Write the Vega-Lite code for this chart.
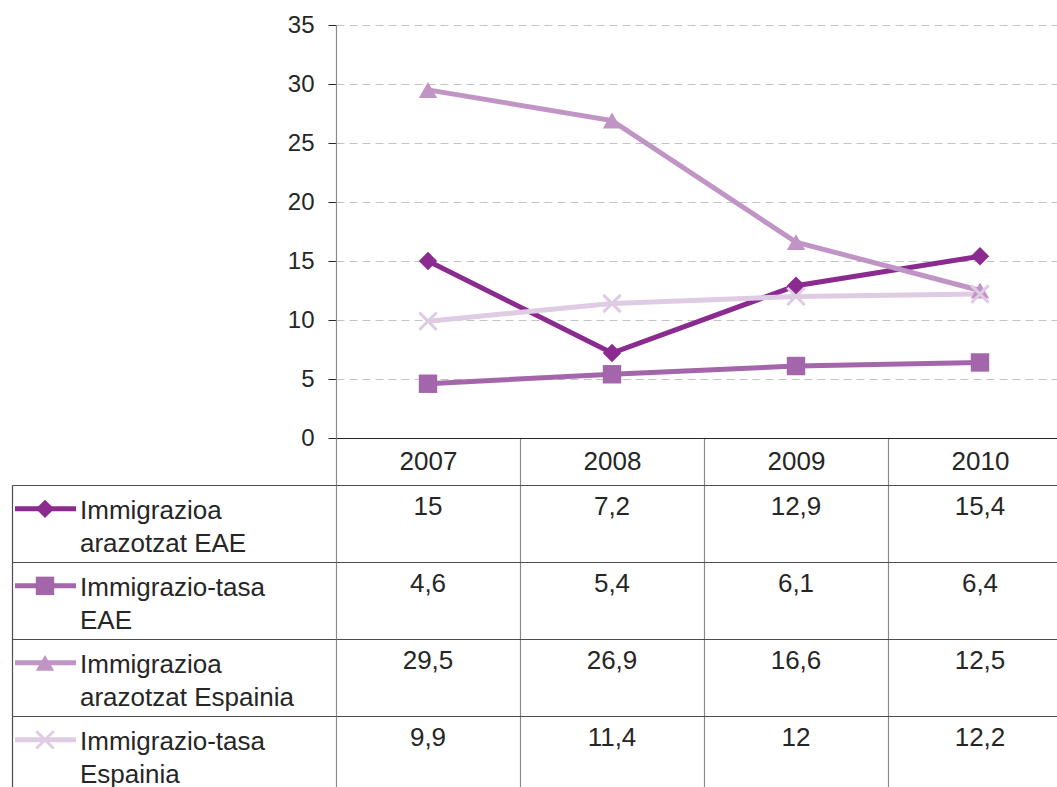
{
  "$schema": "https://vega.github.io/schema/vega-lite/v6.json",
  "datasets": {
    "d": [
      {"series": "Immigrazioa\narazotzat EAE", "year": 2007, "value": 15},
      {"series": "Immigrazioa\narazotzat EAE", "year": 2008, "value": 7.2},
      {"series": "Immigrazioa\narazotzat EAE", "year": 2009, "value": 12.9},
      {"series": "Immigrazioa\narazotzat EAE", "year": 2010, "value": 15.4},
      {"series": "Immigrazio-tasa\nEAE", "year": 2007, "value": 4.6},
      {"series": "Immigrazio-tasa\nEAE", "year": 2008, "value": 5.4},
      {"series": "Immigrazio-tasa\nEAE", "year": 2009, "value": 6.1},
      {"series": "Immigrazio-tasa\nEAE", "year": 2010, "value": 6.4},
      {"series": "Immigrazioa\narazotzat Espainia", "year": 2007, "value": 29.5},
      {"series": "Immigrazioa\narazotzat Espainia", "year": 2008, "value": 26.9},
      {"series": "Immigrazioa\narazotzat Espainia", "year": 2009, "value": 16.6},
      {"series": "Immigrazioa\narazotzat Espainia", "year": 2010, "value": 12.5},
      {"series": "Immigrazio-tasa\nEspainia", "year": 2007, "value": 9.9},
      {"series": "Immigrazio-tasa\nEspainia", "year": 2008, "value": 11.4},
      {"series": "Immigrazio-tasa\nEspainia", "year": 2009, "value": 12},
      {"series": "Immigrazio-tasa\nEspainia", "year": 2010, "value": 12.2}
    ]
  },
  "padding": {"left": 12, "top": 13, "right": 0, "bottom": 0},
  "autosize": {"type": "pad"},
  "columns": 2,
  "spacing": {"row": 47, "column": 0},
  "bounds": "flush",
  "resolve": {"scale": {"x": "independent", "y": "independent"}},
  "concat": [
    {
      "width": 324,
      "height": 413,
      "data": {"values": [{}]},
      "mark": {"type": "text", "text": ""}
    },
    {
      "width": 736,
      "height": 413,
      "data": {"name": "d"},
      "encoding": {
        "x": {
          "field": "year", "type": "ordinal", "bandPosition": 0.5,
          "scale": {"type": "band", "paddingInner": 0, "paddingOuter": 0},
          "axis": {"title": null, "orient": "bottom", "labelAngle": 0, "domainColor": "#262626", "domainWidth": 1.2, "tickBand": "extent", "tickSize": 47, "tickColor": "#8a8a8a", "tickWidth": 1.2, "labelPadding": -24, "labelBaseline": "middle", "labelFontSize": 26, "labelColor": "#262626", "grid": false}
        },
        "y": {
          "field": "value", "type": "quantitative",
          "scale": {"domain": [0, 35], "nice": false},
          "axis": {"title": null, "values": [0, 5, 10, 15, 20, 25, 30, 35], "domainColor": "#8a8a8a", "domainWidth": 1.2, "tickColor": "#262626", "tickSize": 8, "labelPadding": 14, "labelFontSize": 24, "labelColor": "#262626", "grid": true, "gridDash": [8, 5], "gridColor": "#c4c4c4"}
        },
        "color": {
          "field": "series", "type": "nominal", "legend": null,
          "scale": {"domain": ["Immigrazioa\narazotzat EAE", "Immigrazio-tasa\nEAE", "Immigrazioa\narazotzat Espainia", "Immigrazio-tasa\nEspainia"], "range": ["#8b2a8f", "#a366aa", "#c095c6", "#dfcbe4"]}
        }
      },
      "layer": [
        {"mark": {"type": "line", "strokeWidth": 5}},
        {
          "transform": [{"filter": {"not": {"field": "series", "equal": "Immigrazio-tasa\nEspainia"}}}],
          "mark": {"type": "point", "filled": true, "size": 340, "opacity": 1},
          "encoding": {
            "shape": {"field": "series", "type": "nominal", "legend": null,
              "scale": {"domain": ["Immigrazioa\narazotzat EAE", "Immigrazio-tasa\nEAE", "Immigrazioa\narazotzat Espainia", "Immigrazio-tasa\nEspainia"], "range": ["diamond", "square", "triangle-up", "M-1,-1L1,1M1,-1L-1,1"]}}
          }
        },
        {
          "transform": [{"filter": {"field": "series", "equal": "Immigrazio-tasa\nEspainia"}}],
          "mark": {"type": "point", "filled": false, "size": 300, "strokeWidth": 3, "opacity": 1},
          "encoding": {
            "shape": {"field": "series", "type": "nominal", "legend": null,
              "scale": {"domain": ["Immigrazioa\narazotzat EAE", "Immigrazio-tasa\nEAE", "Immigrazioa\narazotzat Espainia", "Immigrazio-tasa\nEspainia"], "range": ["diamond", "square", "triangle-up", "M-1,-1L1,1M1,-1L-1,1"]}}
          }
        }
      ]
    },
    {
      "width": 324,
      "height": 308,
      "data": {"name": "d"},
      "transform": [{"filter": {"field": "year", "equal": 2007}}],
      "layer": [
        {
          "mark": {"type": "rule", "strokeWidth": 5},
          "encoding": {
            "x": {"value": 3},
            "x2": {"value": 64},
            "y": {"field": "series", "type": "nominal", "bandPosition": 0.31,
              "scale": {"type": "band", "paddingInner": 0, "paddingOuter": 0, "domain": ["Immigrazioa\narazotzat EAE", "Immigrazio-tasa\nEAE", "Immigrazioa\narazotzat Espainia", "Immigrazio-tasa\nEspainia"]},
              "axis": {"title": null, "labels": false, "ticks": false, "domain": true, "domainColor": "#4d4d4d", "domainWidth": 1.2, "grid": true, "tickBand": "extent", "gridColor": "#4d4d4d", "gridWidth": 1.2}},
            "color": {"field": "series", "type": "nominal", "legend": null,
              "scale": {"domain": ["Immigrazioa\narazotzat EAE", "Immigrazio-tasa\nEAE", "Immigrazioa\narazotzat Espainia", "Immigrazio-tasa\nEspainia"], "range": ["#8b2a8f", "#a366aa", "#c095c6", "#dfcbe4"]}}
          }
        },
        {
          "transform": [{"filter": {"not": {"field": "series", "equal": "Immigrazio-tasa\nEspainia"}}}],
          "mark": {"type": "point", "filled": true, "size": 340, "opacity": 1},
          "encoding": {
            "x": {"value": 33},
            "y": {"field": "series", "type": "nominal", "bandPosition": 0.31,
              "scale": {"type": "band", "paddingInner": 0, "paddingOuter": 0, "domain": ["Immigrazioa\narazotzat EAE", "Immigrazio-tasa\nEAE", "Immigrazioa\narazotzat Espainia", "Immigrazio-tasa\nEspainia"]},
              "axis": {"title": null, "labels": false, "ticks": false, "domain": true, "domainColor": "#4d4d4d", "domainWidth": 1.2, "grid": true, "tickBand": "extent", "gridColor": "#4d4d4d", "gridWidth": 1.2}},
            "color": {"field": "series", "type": "nominal", "legend": null,
              "scale": {"domain": ["Immigrazioa\narazotzat EAE", "Immigrazio-tasa\nEAE", "Immigrazioa\narazotzat Espainia", "Immigrazio-tasa\nEspainia"], "range": ["#8b2a8f", "#a366aa", "#c095c6", "#dfcbe4"]}},
            "shape": {"field": "series", "type": "nominal", "legend": null,
              "scale": {"domain": ["Immigrazioa\narazotzat EAE", "Immigrazio-tasa\nEAE", "Immigrazioa\narazotzat Espainia", "Immigrazio-tasa\nEspainia"], "range": ["diamond", "square", "triangle-up", "M-1,-1L1,1M1,-1L-1,1"]}}
          }
        },
        {
          "transform": [{"filter": {"field": "series", "equal": "Immigrazio-tasa\nEspainia"}}],
          "mark": {"type": "point", "filled": false, "size": 300, "strokeWidth": 3, "opacity": 1},
          "encoding": {
            "x": {"value": 33},
            "y": {"field": "series", "type": "nominal", "bandPosition": 0.31,
              "scale": {"type": "band", "paddingInner": 0, "paddingOuter": 0, "domain": ["Immigrazioa\narazotzat EAE", "Immigrazio-tasa\nEAE", "Immigrazioa\narazotzat Espainia", "Immigrazio-tasa\nEspainia"]},
              "axis": {"title": null, "labels": false, "ticks": false, "domain": true, "domainColor": "#4d4d4d", "domainWidth": 1.2, "grid": true, "tickBand": "extent", "gridColor": "#4d4d4d", "gridWidth": 1.2}},
            "color": {"field": "series", "type": "nominal", "legend": null,
              "scale": {"domain": ["Immigrazioa\narazotzat EAE", "Immigrazio-tasa\nEAE", "Immigrazioa\narazotzat Espainia", "Immigrazio-tasa\nEspainia"], "range": ["#8b2a8f", "#a366aa", "#c095c6", "#dfcbe4"]}},
            "shape": {"field": "series", "type": "nominal", "legend": null,
              "scale": {"domain": ["Immigrazioa\narazotzat EAE", "Immigrazio-tasa\nEAE", "Immigrazioa\narazotzat Espainia", "Immigrazio-tasa\nEspainia"], "range": ["diamond", "square", "triangle-up", "M-1,-1L1,1M1,-1L-1,1"]}}
          }
        },
        {
          "mark": {"type": "text", "align": "left", "baseline": "alphabetic", "lineBreak": "\n", "lineHeight": 33, "fontSize": 26, "color": "#262626"},
          "encoding": {
            "x": {"value": 68},
            "y": {"field": "series", "type": "nominal", "bandPosition": 0.44,
              "scale": {"type": "band", "paddingInner": 0, "paddingOuter": 0, "domain": ["Immigrazioa\narazotzat EAE", "Immigrazio-tasa\nEAE", "Immigrazioa\narazotzat Espainia", "Immigrazio-tasa\nEspainia"]},
              "axis": {"title": null, "labels": false, "ticks": false, "domain": true, "domainColor": "#4d4d4d", "domainWidth": 1.2, "grid": true, "tickBand": "extent", "gridColor": "#4d4d4d", "gridWidth": 1.2}},
            "text": {"field": "series", "type": "nominal"}
          }
        }
      ]
    },
    {
      "width": 736,
      "height": 308,
      "data": {"name": "d"},
      "mark": {"type": "text", "fontSize": 26, "color": "#262626", "baseline": "alphabetic", "align": "center"},
      "encoding": {
        "x": {"field": "year", "type": "ordinal", "bandPosition": 0.5,
          "scale": {"type": "band", "paddingInner": 0, "paddingOuter": 0},
          "axis": {"title": null, "orient": "top", "labels": false, "ticks": false, "domain": false, "grid": true, "tickBand": "extent", "gridColor": "#8a8a8a", "gridWidth": 1.2}},
        "y": {"field": "series", "type": "nominal", "bandPosition": 0.39,
          "scale": {"type": "band", "paddingInner": 0, "paddingOuter": 0, "domain": ["Immigrazioa\narazotzat EAE", "Immigrazio-tasa\nEAE", "Immigrazioa\narazotzat Espainia", "Immigrazio-tasa\nEspainia"]},
          "axis": {"title": null, "labels": false, "ticks": false, "domain": false, "grid": true, "tickBand": "extent", "gridColor": "#4d4d4d", "gridWidth": 1.2}},
        "text": {"field": "value", "type": "quantitative", "format": "~g"}
      }
    }
  ],
  "config": {
    "view": {"stroke": null},
    "font": "Liberation Sans",
    "axis": {"labelFont": "Liberation Sans"},
    "locale": {"number": {"decimal": ",", "thousands": ".", "grouping": [3], "currency": ["", " €"]}}
  }
}
